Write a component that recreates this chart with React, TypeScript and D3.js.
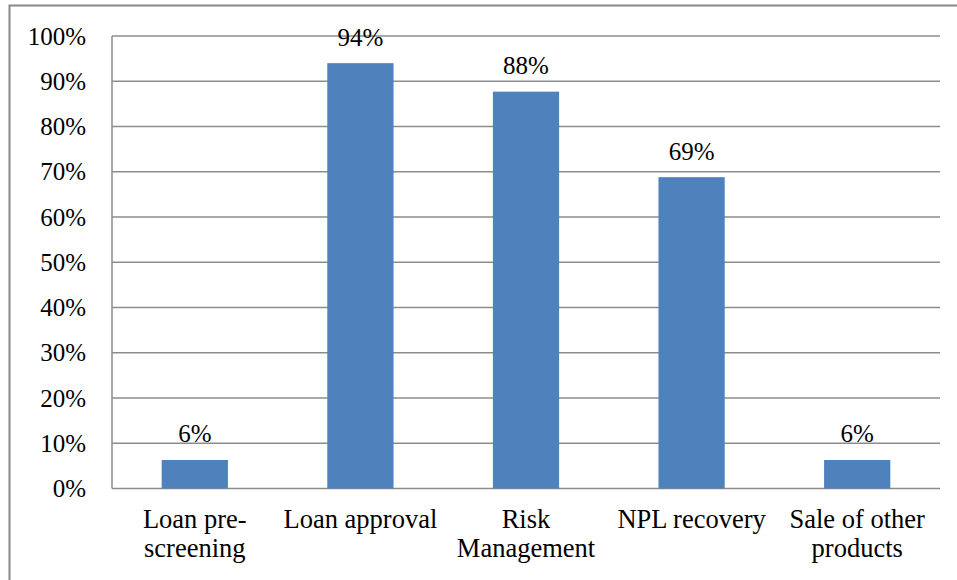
import React from "react";
import * as d3 from "d3";

const categories: string[][] = [
  ["Loan pre-", "screening"],
  ["Loan approval"],
  ["Risk", "Management"],
  ["NPL recovery"],
  ["Sale of other", "products"],
];
const values: number[] = [0.063, 0.94, 0.877, 0.688, 0.063];
const valueLabels: string[] = ["6%", "94%", "88%", "69%", "6%"];
const ticks: number[] = [0, 0.1, 0.2, 0.3, 0.4, 0.5, 0.6, 0.7, 0.8, 0.9, 1.0];

const W = 957;
const H = 580;
const left = 112;
const right = 940;
const top = 36;
const bottom = 488.5;

export default function App() {
  const keys = categories.map((c, i) => String(i));
  const x = d3.scaleBand<string>().domain(keys).range([left, right]).padding(0);
  const y = d3.scaleLinear().domain([0, 1]).range([bottom, top]);
  const bw = x.bandwidth();
  const barW = bw * 0.4;
  const font = "'Liberation Serif', 'Times New Roman', serif";
  const grid = "#8c8c8c";

  return (
    <svg
      width={W}
      height={H}
      style={{ position: "absolute", left: 0, top: 0, background: "#fff" }}
    >
      <rect x={0} y={0} width={W} height={H} fill="#fff" />
      {/* outer border */}
      <path d={`M9.5,${H + 5} L9.5,5.5 L${W + 5},5.5`} fill="none" stroke="#888" strokeWidth={2} />
      {/* gridlines */}
      {ticks.map((t) => (
        <line
          key={t}
          x1={left}
          x2={right}
          y1={y(t)}
          y2={y(t)}
          stroke={grid}
          strokeWidth={1.5}
        />
      ))}
      {/* y axis line */}
      <line x1={left} x2={left} y1={top} y2={bottom} stroke={grid} strokeWidth={1.5} />
      {/* tick labels */}
      {ticks.map((t) => (
        <text
          key={"l" + t}
          x={86}
          y={y(t) + 8.5}
          textAnchor="end"
          fontFamily={font}
          fontSize={25}
          fill="#000"
        >
          {d3.format(".0%")(t)}
        </text>
      ))}
      {/* bars */}
      {values.map((v, i) => (
        <rect
          key={"b" + i}
          x={(x(keys[i]) as number) + (bw - barW) / 2}
          y={y(v)}
          width={barW}
          height={y(0) - y(v)}
          fill="#4F81BD"
        />
      ))}
      {/* value labels */}
      {values.map((v, i) => (
        <text
          key={"v" + i}
          x={(x(keys[i]) as number) + bw / 2}
          y={y(v) - 17.5}
          textAnchor="middle"
          fontFamily={font}
          fontSize={25}
          fill="#000"
        >
          {valueLabels[i]}
        </text>
      ))}
      {/* category labels */}
      {categories.map((lines, i) => (
        <text
          key={"c" + i}
          textAnchor="middle"
          fontFamily={font}
          fontSize={26.5}
          fill="#000"
        >
          {lines.map((ln, j) => (
            <tspan key={j} x={(x(keys[i]) as number) + bw / 2} y={528 + j * 29}>
              {ln}
            </tspan>
          ))}
        </text>
      ))}
    </svg>
  );
}
